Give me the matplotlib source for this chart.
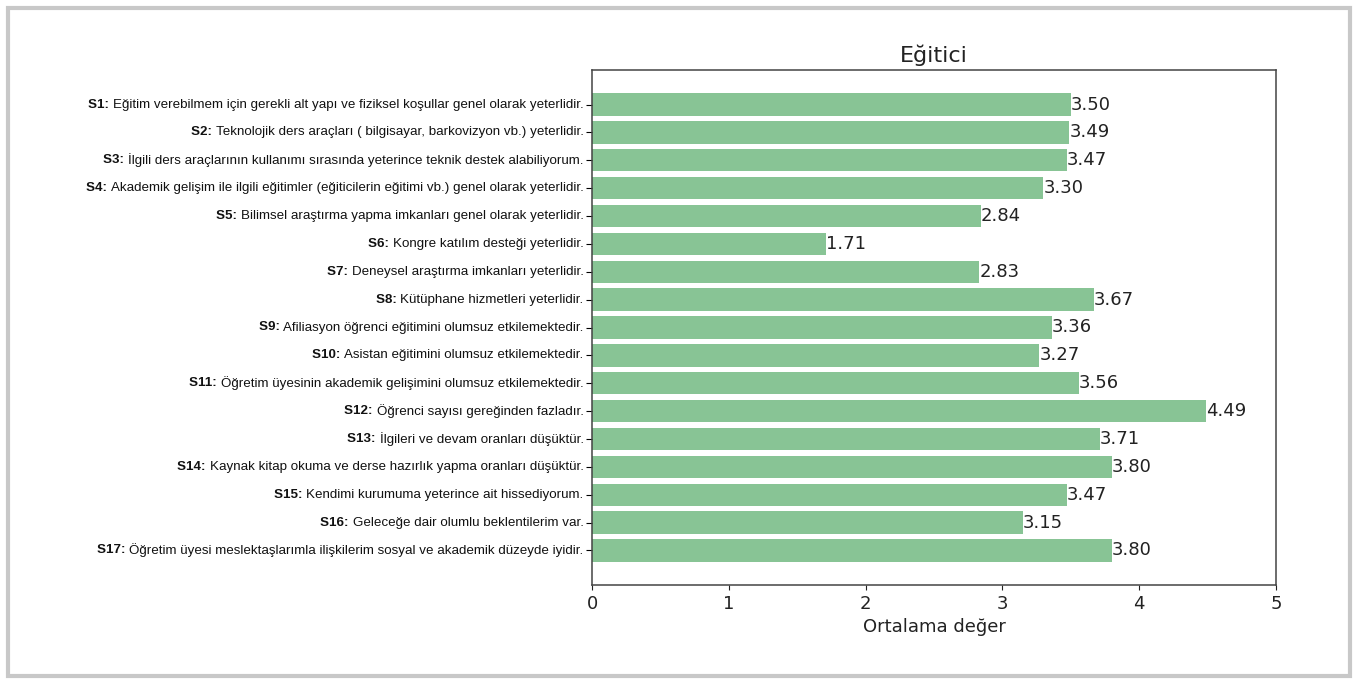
import matplotlib.pyplot as plt
from matplotlib.patches import Rectangle

codes = ['S1', 'S2', 'S3', 'S4', 'S5', 'S6', 'S7', 'S8', 'S9', 'S10',
         'S11', 'S12', 'S13', 'S14', 'S15', 'S16', 'S17']
questions = [
    'Eğitim verebilmem için gerekli alt yapı ve fiziksel koşullar genel olarak yeterlidir.',
    'Teknolojik ders araçları ( bilgisayar, barkovizyon vb.) yeterlidir.',
    'İlgili ders araçlarının kullanımı sırasında yeterince teknik destek alabiliyorum.',
    'Akademik gelişim ile ilgili eğitimler (eğiticilerin eğitimi vb.) genel olarak yeterlidir.',
    'Bilimsel araştırma yapma imkanları genel olarak yeterlidir.',
    'Kongre katılım desteği yeterlidir.',
    'Deneysel araştırma imkanları yeterlidir.',
    'Kütüphane hizmetleri yeterlidir.',
    'Afiliasyon öğrenci eğitimini olumsuz etkilemektedir.',
    'Asistan eğitimini olumsuz etkilemektedir.',
    'Öğretim üyesinin akademik gelişimini olumsuz etkilemektedir.',
    'Öğrenci sayısı gereğinden fazladır.',
    'İlgileri ve devam oranları düşüktür.',
    'Kaynak kitap okuma ve derse hazırlık yapma oranları düşüktür.',
    'Kendimi kurumuma yeterince ait hissediyorum.',
    'Geleceğe dair olumlu beklentilerim var.',
    'Öğretim üyesi meslektaşlarımla ilişkilerim sosyal ve akademik düzeyde iyidir.',
]
means = [3.50, 3.49, 3.47, 3.30, 2.84, 1.71, 2.83, 3.67, 3.36, 3.27,
         3.56, 4.49, 3.71, 3.80, 3.47, 3.15, 3.80]

fig = plt.figure(figsize=(13.7, 6.84), dpi=100)
ax = fig.add_axes([592 / 1370, 1 - 585 / 684, 684 / 1370, 515 / 684])

pos = list(range(len(means)))
bars = ax.barh(pos, means, color='#88c495')
ax.invert_yaxis()
ax.set_xlim(0, 5)
ax.set_yticks(pos)
ax.set_yticklabels([''] * len(pos))
ax.tick_params(axis='y', length=4)
ax.tick_params(axis='x', labelsize=13, colors='#222222')
for s in ax.spines.values():
    s.set_color('#444444')
    s.set_linewidth(1.1)

for b, v in zip(bars, means):
    ax.text(v, b.get_y() + b.get_height() / 2, '%.2f' % v,
            va='center', ha='left', fontsize=13, color='#222222')

# question labels: bold code followed by normal text
for p, c, q in zip(pos, codes, questions):
    t = ax.annotate(q, xy=(0, p), xycoords=('axes fraction', 'data'),
                    xytext=(-6, 0), textcoords='offset points',
                    ha='right', va='center', fontsize=9.6,
                    family='Liberation Sans', color='#111111')
    ax.annotate(c + ': ', xy=(0, 0.5), xycoords=t,
                ha='right', va='center', fontsize=9.6,
                family='Liberation Sans', fontweight='bold', color='#111111')

ax.set_title('Eğitici', fontsize=16, color='#222222')
ax.set_xlabel('Ortalama değer', fontsize=13, color='#222222')

# frame around the picture
fig.patches.append(Rectangle((8 / 1370, 8 / 684), 1342 / 1370, 668 / 684,
                             transform=fig.transFigure, fill=False,
                             edgecolor='#c8c8c8', linewidth=3))

fig.savefig('out.png', dpi=100)
